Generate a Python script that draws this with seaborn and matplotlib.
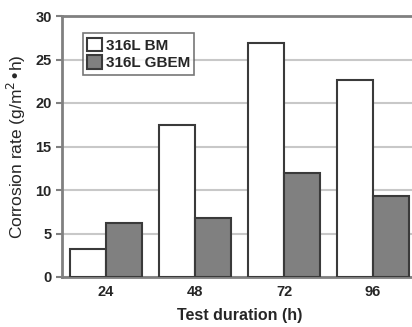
import pandas as pd
import numpy as np
import matplotlib.pyplot as plt
import seaborn as sns

durations = ["24", "48", "72", "96"]
bm_rate = [3.2, 17.5, 26.9, 22.6]
gbem_rate = [6.2, 6.8, 12.0, 9.3]
series = ["316L BM", "316L GBEM"]

df = pd.DataFrame({
    "duration": durations * 2,
    "rate": bm_rate + gbem_rate,
    "series": [series[0]] * 4 + [series[1]] * 4,
})

sns.set_style("white")
plt.rcParams['font.family'] = ['Liberation Sans', 'DejaVu Sans']

fig = plt.figure(figsize=(4.12, 3.27), dpi=100)
ax = fig.add_axes([62 / 412, 50 / 327, 355 / 412, 261 / 327])

sns.barplot(data=df, x="duration", y="rate", hue="series",
            palette=["white", "#808080"], edgecolor="#3a3a3a",
            linewidth=1.5, width=0.81, ax=ax, zorder=3)

ax.set_ylim(0, 30)
ax.set_xlim(-0.494, 3.494)
ax.set_yticks([0, 5, 10, 15, 20, 25, 30])
ax.yaxis.grid(True, color="#c8c8c8", linewidth=1.5, zorder=0)
ax.set_axisbelow(True)
for s in ax.spines.values():
    s.set_color("#808080")
    s.set_linewidth(2)
ax.tick_params(axis="y", length=4, width=1.5, color="#808080", labelsize=10.5, left=True)
ax.tick_params(axis="x", length=0, labelsize=10.5, pad=6)
for lbl in ax.get_xticklabels() + ax.get_yticklabels():
    lbl.set_fontweight("bold")

ax.set_xlabel("Test duration (h)", fontsize=11.5, fontweight="bold", labelpad=6)
ax.set_ylabel("Corrosion rate (g/m$^{2}$\u2022h)", fontsize=12.5, labelpad=5)

leg = ax.legend(loc="upper left", bbox_to_anchor=(0.058, 0.935), frameon=True,
                fancybox=False, edgecolor="#555555",
                prop={"size": 11, "weight": "bold"},
                handlelength=1.0, handleheight=1.0, handletextpad=0.2,
                borderpad=0.3, labelspacing=0.15, borderaxespad=0)
leg.get_frame().set_linewidth(1.2)

fig.savefig("out.png", dpi=100)
